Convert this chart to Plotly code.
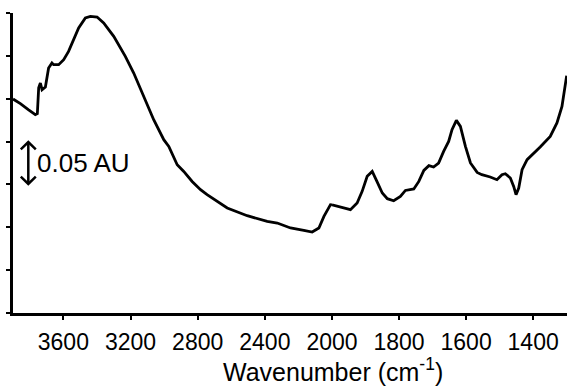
import plotly.graph_objects as go

# Wavenumber (cm-1) and absorbance (AU)
wavenumber = [3900, 3856, 3809, 3767, 3755, 3747, 3737, 3727, 3707, 3688, 3668, 3658, 3628, 3598,
              3569, 3548, 3509, 3469, 3439, 3399, 3360, 3300, 3231, 3181, 3122, 3062, 3002, 2972,
              2922, 2883, 2833, 2783, 2744, 2624, 2505, 2386, 2326, 2247, 2168, 2118, 2078, 2048,
              2009, 2000, 1980, 1945, 1925, 1910, 1895, 1880, 1866, 1850, 1835, 1816, 1796, 1781,
              1756, 1741, 1726, 1711, 1697, 1682, 1667, 1652, 1642, 1629, 1617, 1602, 1587, 1567,
              1553, 1528, 1508, 1493, 1483, 1468, 1458, 1451, 1443, 1433, 1418, 1399, 1379, 1349,
              1329, 1314, 1300]
absorbance = [0.2497, 0.2442, 0.2372, 0.2314, 0.2325, 0.2629, 0.2683, 0.2605, 0.2637, 0.2858, 0.2917,
              0.2897, 0.2897, 0.2955, 0.3052, 0.3150, 0.3325, 0.3442, 0.3460, 0.3453, 0.3383, 0.3227,
              0.2994, 0.2800, 0.2527, 0.2255, 0.2022, 0.1944, 0.1730, 0.1652, 0.1535, 0.1439, 0.1380,
              0.1225, 0.1135, 0.1069, 0.1050, 0.0992, 0.0964, 0.0945, 0.0992, 0.1127, 0.1264, 0.1262,
              0.1244, 0.1205, 0.1283, 0.1419, 0.1594, 0.1652, 0.1535, 0.1400, 0.1334, 0.1310, 0.1360,
              0.1430, 0.1447, 0.1535, 0.1664, 0.1719, 0.1703, 0.1750, 0.1885, 0.2002, 0.2139, 0.2247,
              0.2177, 0.1944, 0.1750, 0.1640, 0.1614, 0.1587, 0.1555, 0.1614, 0.1625, 0.1575, 0.1477,
              0.1380, 0.1458, 0.1672, 0.1789, 0.1859, 0.1937, 0.2060, 0.2217, 0.2410, 0.2769]

hi_ticks = [3600, 3200, 2800, 2400, 2000]
hi_labels = ["3600", "3200", "2800", "2400", "2000"]
lo_ticks = [1800, 1600, 1400]
lo_labels = ["1800", "1600", "1400"]

split = 2000
hi = [(w, a) for w, a in zip(wavenumber, absorbance) if w >= split]
lo = [(w, a) for w, a in zip(wavenumber, absorbance) if w <= split]

FONT = "Liberation Sans, Arial, sans-serif"
line = dict(color="black", width=2.8)

fig = go.Figure()
fig.add_trace(go.Scatter(x=[p[0] for p in hi], y=[p[1] for p in hi], mode="lines",
                         line=line, xaxis="x", yaxis="y", showlegend=False, hoverinfo="skip"))
fig.add_trace(go.Scatter(x=[p[0] for p in lo], y=[p[1] for p in lo], mode="lines",
                         line=line, xaxis="x2", yaxis="y", showlegend=False, hoverinfo="skip"))

frac = 0.5758
axis_common = dict(showline=True, linecolor="black", linewidth=3, ticks="outside",
                   ticklen=4, tickwidth=2, tickcolor="black", showgrid=False, zeroline=False,
                   tickfont=dict(family=FONT, size=23, color="black"), ticklabelstandoff=2)

fig.update_layout(
    width=571, height=388,
    margin=dict(l=13, r=4, t=13, b=75, autoexpand=False),
    paper_bgcolor="white", plot_bgcolor="white",
    xaxis=dict(domain=[0, frac], range=[3900, 2000], tickmode="array",
               tickvals=hi_ticks, ticktext=hi_labels, anchor="y", automargin=False, **axis_common),
    xaxis2=dict(domain=[frac, 1], range=[2000, 1299], tickmode="array",
                tickvals=lo_ticks, ticktext=lo_labels, anchor="y", automargin=False, **axis_common),
    yaxis=dict(range=[0, 0.35], dtick=0.05, tick0=0, showticklabels=False, automargin=False,
               showline=True, linecolor="black", linewidth=3, ticks="outside",
               ticklen=4, tickwidth=2, tickcolor="black", showgrid=False, zeroline=False),
)

# scale bar: 0.05 AU double arrow
ax_x = (28.3 - 13) / 554
fig.add_shape(type="line", xref="paper", yref="y", x0=ax_x, x1=ax_x, y0=0.1505, y1=0.1995,
              line=dict(color="black", width=2.5))
dx = 7.5 / 554
dy = 0.0085
fig.add_shape(type="path", xref="paper", yref="y",
              path=f"M {ax_x-dx} {0.1995-dy} L {ax_x} 0.1995 L {ax_x+dx} {0.1995-dy}",
              line=dict(color="black", width=2.5))
fig.add_shape(type="path", xref="paper", yref="y",
              path=f"M {ax_x-dx} {0.1505+dy} L {ax_x} 0.1505 L {ax_x+dx} {0.1505+dy}",
              line=dict(color="black", width=2.5))
fig.add_annotation(text="0.05 AU", xref="paper", yref="y", x=(35 - 13) / 554, y=0.1745,
                   xanchor="left", yanchor="middle", showarrow=False,
                   font=dict(family=FONT, size=26, color="black"))

fig.add_annotation(text="Wavenumber (cm<sup>-1</sup>)", xref="paper", yref="paper",
                   x=(333 - 13) / 554, y=-(370 - 313) / 300, xanchor="center", yanchor="middle",
                   showarrow=False, font=dict(family=FONT, size=25, color="black"))

fig.write_html("out.html", config={"displayModeBar": False, "staticPlot": True},
               post_script="document.body.style.margin='0';document.documentElement.style.overflow='hidden';")
